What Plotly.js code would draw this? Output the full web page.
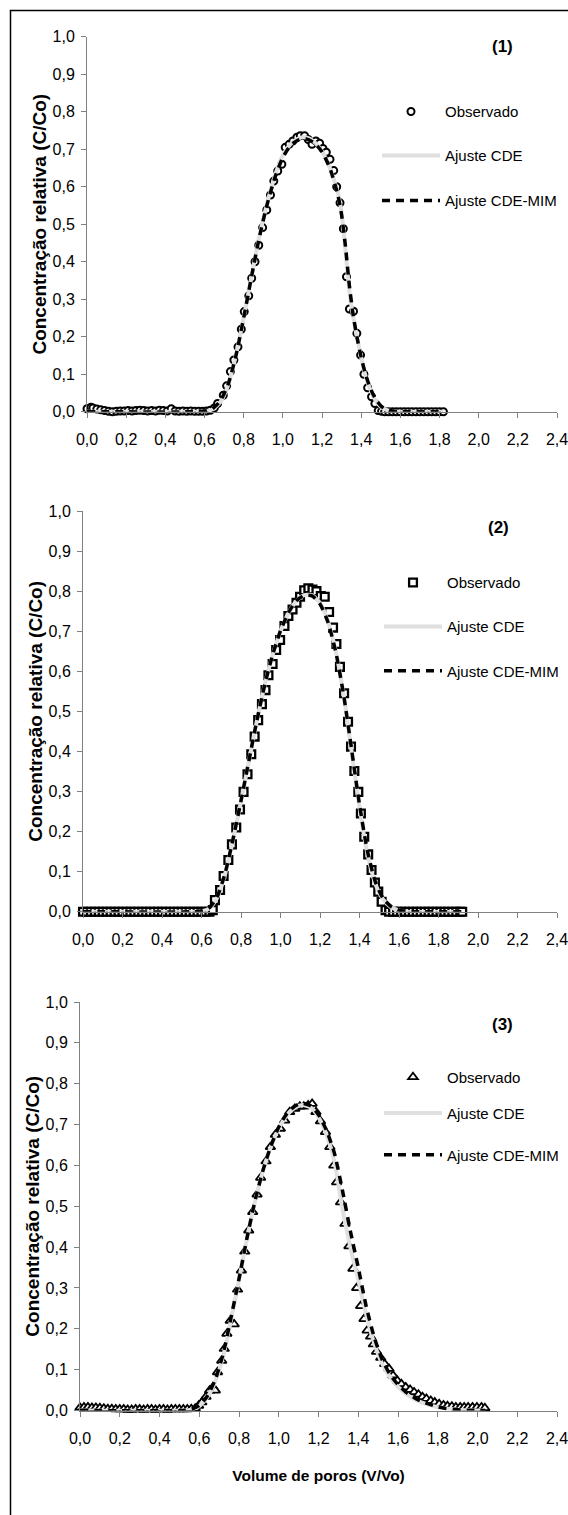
<!DOCTYPE html>
<html><head><meta charset="utf-8">
<script src="https://cdn.plot.ly/plotly-3.0.1.min.js"></script>
<style>html,body{margin:0;padding:0;background:#fff}</style>
</head><body><div id="chart" style="width:568px;height:1515px"></div>
<script>
// ---------- Panel (1) ----------
const obs1X = [0.00,0.02,0.03,0.05,0.07,0.09,0.11,0.13,0.15,0.17,0.19,0.21,0.23,0.25,0.27,0.29,0.31,0.33,0.35,0.37,0.39,0.41,0.43,0.45,0.47,0.49,0.51,0.53,0.55,0.57,0.59,0.61,0.63,0.65,
  0.667,0.696,0.713,0.732,0.750,0.771,0.788,0.803,0.826,0.841,0.858,0.877,0.897,0.918,0.937,0.954,0.974,0.995,1.012,1.032,1.051,1.072,1.089,1.111,1.130,1.149,1.169,1.188,1.205,1.222,1.241,1.260,1.275,1.292,1.309,1.325,1.340,1.361,1.378,1.397,1.414,1.433,1.453,1.470,1.487,1.504,
  1.52,1.54,1.56,1.58,1.60,1.62,1.64,1.66,1.68,1.70,1.72,1.74,1.76,1.78,1.80,1.82];
const obs1Y = [0.008,0.012,0.010,0.007,0.005,0.003,0.001,0.000,0.001,0.002,0.002,0.003,0.002,0.003,0.004,0.003,0.002,0.003,0.002,0.004,0.003,0.002,0.008,0.002,0.001,0.002,0.001,0.002,0.001,0.001,0.001,0.002,0.004,0.010,
  0.022,0.044,0.069,0.107,0.138,0.173,0.220,0.267,0.309,0.356,0.400,0.444,0.491,0.538,0.578,0.615,0.642,0.660,0.705,0.713,0.722,0.732,0.736,0.736,0.726,0.713,0.722,0.716,0.702,0.692,0.673,0.643,0.600,0.557,0.488,0.360,0.274,0.268,0.209,0.151,0.100,0.064,0.040,0.022,0.003,0.001,
  0,0,0,0,0,0,0,0,0,0,0,0,0,0,0,0];
const cde1X = [0,0.56,0.60,0.64,0.68,0.72,0.76,0.80,0.84,0.88,0.92,0.96,1.00,1.04,1.08,1.12,1.16,1.20,1.24,1.28,1.30,1.32,1.34,1.36,1.38,1.40,1.42,1.44,1.46,1.48,1.50,1.52,1.56,1.60,1.82];
const cde1Y = [0,0,0.001,0.006,0.025,0.070,0.150,0.250,0.360,0.468,0.556,0.630,0.684,0.714,0.729,0.731,0.720,0.695,0.650,0.585,0.530,0.430,0.320,0.250,0.195,0.145,0.100,0.068,0.043,0.025,0.013,0.006,0.001,0,0];
const mim1X = [0,0.56,0.60,0.64,0.68,0.72,0.76,0.80,0.84,0.88,0.92,0.96,1.00,1.04,1.08,1.12,1.16,1.20,1.24,1.28,1.30,1.32,1.34,1.36,1.38,1.40,1.42,1.44,1.46,1.48,1.50,1.52,1.56,1.60,1.82];
const mim1Y = [0,0,0.002,0.008,0.028,0.072,0.148,0.250,0.360,0.465,0.553,0.625,0.678,0.710,0.725,0.727,0.717,0.693,0.650,0.580,0.525,0.440,0.335,0.255,0.195,0.145,0.104,0.072,0.047,0.029,0.016,0.008,0.002,0,0];

// ---------- Panel (2) ----------
const obs2X = [0.00,0.02,0.04,0.06,0.08,0.10,0.12,0.14,0.16,0.18,0.20,0.22,0.24,0.26,0.28,0.30,0.32,0.34,0.36,0.38,0.40,0.42,0.44,0.46,0.48,0.50,0.52,0.54,0.56,0.58,0.60,0.62,0.64,
  0.657,0.668,0.694,0.712,0.736,0.754,0.776,0.795,0.813,0.833,0.852,0.869,0.887,0.906,0.924,0.939,0.960,0.978,0.998,1.020,1.040,1.061,1.081,1.099,1.120,1.141,1.162,1.182,1.204,1.224,1.246,1.266,1.283,1.301,1.322,1.342,1.357,1.374,1.394,1.407,1.424,1.444,1.461,1.478,1.495,1.512,1.532,
  1.55,1.57,1.59,1.61,1.63,1.65,1.67,1.69,1.71,1.73,1.75,1.77,1.79,1.81,1.83,1.85,1.87,1.89,1.91,1.92];
const obs2Y = [0,0,0,0,0,0,0,0,0,0,0,0,0,0,0,0,0,0,0,0,0,0,0,0,0,0,0,0,0,0,0,0,0,
  0.004,0.029,0.054,0.089,0.129,0.168,0.210,0.255,0.299,0.343,0.393,0.437,0.478,0.518,0.553,0.590,0.618,0.653,0.678,0.713,0.738,0.754,0.771,0.786,0.802,0.807,0.804,0.800,0.788,0.786,0.748,0.709,0.668,0.611,0.545,0.474,0.412,0.351,0.299,0.245,0.187,0.143,0.104,0.073,0.050,0.025,0.004,
  0,0,0,0,0,0,0,0,0,0,0,0,0,0,0,0,0,0,0,0];
const cde2X = [0,0.56,0.60,0.64,0.68,0.72,0.76,0.80,0.84,0.88,0.92,0.96,1.00,1.04,1.08,1.12,1.16,1.20,1.24,1.28,1.32,1.36,1.40,1.44,1.48,1.52,1.56,1.60,1.64,1.92];
const cde2Y = [0,0,0.001,0.008,0.035,0.095,0.180,0.275,0.375,0.475,0.565,0.640,0.700,0.745,0.775,0.790,0.790,0.770,0.725,0.650,0.540,0.400,0.260,0.145,0.070,0.030,0.011,0.003,0,0];
const mim2X = [0,0.56,0.60,0.64,0.68,0.72,0.76,0.80,0.84,0.88,0.92,0.96,1.00,1.04,1.08,1.12,1.16,1.20,1.24,1.28,1.32,1.36,1.40,1.44,1.48,1.52,1.56,1.60,1.64,1.68,1.92];
const mim2Y = [0,0,0.002,0.010,0.038,0.097,0.182,0.277,0.377,0.476,0.566,0.641,0.701,0.746,0.776,0.789,0.788,0.768,0.723,0.648,0.540,0.405,0.267,0.152,0.075,0.033,0.013,0.004,0.001,0,0];

// ---------- Panel (3) ----------
const obs3X = [0.00,0.02,0.04,0.06,0.08,0.10,0.12,0.14,0.16,0.18,0.20,0.22,0.24,0.26,0.28,0.30,0.32,0.34,0.36,0.38,0.40,0.42,0.44,0.46,0.48,0.50,0.52,0.54,0.56,0.58,
  0.597,0.613,0.634,0.652,0.669,0.681,0.692,0.713,0.726,0.739,0.756,0.776,0.793,0.812,0.829,0.849,0.869,0.891,0.909,0.936,0.958,0.983,1.008,1.030,1.055,1.081,1.106,1.126,1.148,1.168,1.187,1.210,1.235,1.257,1.277,1.291,1.311,1.333,1.353,1.373,1.392,1.412,1.429,1.445,1.462,1.476,1.492,1.513,1.533,1.555,1.575,1.597,1.617,1.639,1.661,1.681,1.703,1.723,1.743,1.765,1.785,1.807,1.829,1.849,1.871,1.891,1.913,1.933,1.953,1.975,1.997,2.020,2.037];
const obs3Y = [0.007,0.008,0.008,0.007,0.007,0.006,0.005,0.004,0.004,0.003,0.003,0.003,0.002,0.002,0.003,0.003,0.002,0.003,0.003,0.002,0.003,0.003,0.002,0.003,0.003,0.003,0.003,0.003,0.004,0.005,
  0.012,0.020,0.034,0.049,0.057,0.049,0.094,0.122,0.151,0.188,0.220,0.211,0.296,0.343,0.389,0.441,0.486,0.529,0.570,0.610,0.645,0.675,0.690,0.710,0.731,0.739,0.744,0.744,0.747,0.751,0.731,0.708,0.682,0.645,0.600,0.559,0.510,0.457,0.402,0.347,0.300,0.256,0.224,0.196,0.181,0.162,0.144,0.129,0.114,0.102,0.086,0.073,0.065,0.057,0.051,0.045,0.039,0.033,0.029,0.024,0.020,0.016,0.013,0.011,0.010,0.008,0.008,0.008,0.008,0.008,0.008,0.008,0.006];
const cde3X = [0,0.52,0.56,0.60,0.64,0.68,0.72,0.76,0.80,0.84,0.88,0.92,0.96,1.00,1.04,1.08,1.12,1.16,1.20,1.24,1.28,1.32,1.36,1.40,1.44,1.48,1.52,1.56,1.60,1.64,1.68,1.72,1.76,1.80,1.84,1.88,1.92,1.96,2.04];
const cde3Y = [0,0,0.002,0.011,0.032,0.070,0.132,0.222,0.320,0.420,0.510,0.585,0.645,0.690,0.722,0.741,0.748,0.742,0.718,0.675,0.610,0.495,0.400,0.320,0.235,0.165,0.115,0.082,0.058,0.041,0.028,0.019,0.013,0.008,0.005,0.003,0.001,0,0];
const mim3X = [0,0.52,0.56,0.60,0.64,0.68,0.72,0.76,0.80,0.84,0.88,0.92,0.96,1.00,1.04,1.08,1.12,1.16,1.20,1.24,1.28,1.32,1.36,1.40,1.44,1.48,1.52,1.56,1.60,1.64,1.68,1.72,1.76,1.80,1.84,1.88,1.92,1.96,2.04];
const mim3Y = [0,0,0.003,0.012,0.035,0.075,0.138,0.228,0.322,0.422,0.512,0.587,0.647,0.694,0.726,0.745,0.752,0.746,0.724,0.686,0.630,0.540,0.440,0.350,0.255,0.180,0.125,0.088,0.063,0.045,0.032,0.022,0.015,0.009,0.005,0.003,0.001,0,0];

const legendNames = ['Observado', 'Ajuste CDE', 'Ajuste CDE-MIM'];
const panelLabels = ['(1)', '(2)', '(3)'];
const xTicks = [0,0.2,0.4,0.6,0.8,1.0,1.2,1.4,1.6,1.8,2.0,2.2,2.4];
const yTitle = 'Concentração relativa (C/Co)';
const xTitle = 'Volume de poros (V/Vo)';

// ---------- styling ----------
const REG = "'Liberation Sans', Arial, sans-serif";
const H = 1515, W = 568;
const py = v => 1 - v / H;
const px = v => v / W;

const obsSets = [[obs1X, obs1Y], [obs2X, obs2Y], [obs3X, obs3Y]];
const cdeSets = [[cde1X, cde1Y], [cde2X, cde2Y], [cde3X, cde3Y]];
const mimSets = [[mim1X, mim1Y], [mim2X, mim2Y], [mim3X, mim3Y]];
const symbols = ['circle', 'square', 'triangle-up'];
const symSize = [7, 7.8, 8.5];
const symLine = [2.0, 2.3, 1.8];

const legendY = [[111.7, 155.7, 200.7], [582.7, 626.7, 671], [1077.3, 1113.3, 1155]];
const legendX = [377, 379, 379];

const traces = [];
const layout = {
  width: W, height: H,
  margin: {l: 0, r: 0, t: 0, b: 0},
  paper_bgcolor: '#fff', plot_bgcolor: 'rgba(0,0,0,0)',
  separators: ', ',
  showlegend: true,
  font: {family: REG, size: 16, color: '#000'},
  shapes: [{type: 'rect', xref: 'paper', yref: 'paper', x0: px(10.5), x1: 1.05, y0: -0.05, y1: py(10.5),
            line: {color: '#000', width: 1.5}, fillcolor: 'rgba(0,0,0,0)', layer: 'below'}],
  annotations: []
};

const xDom = [[87, 557], [83, 557], [80, 557]];
const yDom = [[411.7, 36.7], [911.7, 511], [1410.5, 1002]];
const labelPos = [[2.123, 0.973], [2.106, 0.960], [2.128, 0.944]];

for (let p = 0; p < 3; p++) {
  const sfx = p === 0 ? '' : String(p + 1);
  const xa = 'x' + sfx, ya = 'y' + sfx;
  const lg = [3 * p, 3 * p + 1, 3 * p + 2].map(i => i === 0 ? 'legend' : 'legend' + (i + 1));

  traces.push({
    type: 'scatter', mode: 'markers', x: obsSets[p][0], y: obsSets[p][1], xaxis: xa, yaxis: ya,
    name: legendNames[0], legend: lg[0], showlegend: true, cliponaxis: false,
    marker: {symbol: symbols[p], size: symSize[p], color: '#fff', line: {color: '#000', width: symLine[p]}}
  });
  traces.push({
    type: 'scatter', mode: 'lines', x: cdeSets[p][0], y: cdeSets[p][1], xaxis: xa, yaxis: ya,
    name: legendNames[1], legend: lg[1], showlegend: true, cliponaxis: false,
    line: {color: '#e0e0e0', width: 4, shape: 'spline', smoothing: 0.6}
  });
  traces.push({
    type: 'scatter', mode: 'lines', x: mimSets[p][0], y: mimSets[p][1], xaxis: xa, yaxis: ya,
    name: legendNames[2], legend: lg[2], showlegend: true, cliponaxis: false,
    line: {color: '#000', width: 3.5, dash: '8px,6px', shape: 'spline', smoothing: 0.6}
  });

  for (let k = 0; k < 3; k++) {
    layout[lg[k]] = {
      x: px(legendX[p]), y: py(legendY[p][k]), xanchor: 'left', yanchor: 'middle',
      bgcolor: 'rgba(0,0,0,0)', borderwidth: 0, itemwidth: 58,
      font: {family: REG, size: 15, color: '#000'}
    };
  }

  const axisCommon = {
    showgrid: false, zeroline: false, showline: true, linecolor: '#808080', linewidth: 1,
    ticks: 'outside', ticklen: 5, tickwidth: 1, tickcolor: '#808080', ticklabeloverflow: 'allow',
    tickfont: {family: REG, size: 16, color: '#000'}, fixedrange: true, tickformat: '.1f'
  };
  layout['xaxis' + sfx] = Object.assign({}, axisCommon, {
    domain: [px(xDom[p][0]), px(xDom[p][1])], anchor: ya, range: [0, 2.4],
    tickmode: 'array', tickvals: xTicks, ticklabelstandoff: 8
  });
  if (p === 2) {
    layout['xaxis' + sfx].title = {text: '<b>' + xTitle + '</b>', font: {family: REG, size: 15.5, color: '#000'}, standoff: 24};
  }
  layout['yaxis' + sfx] = Object.assign({}, axisCommon, {
    domain: [py(yDom[p][0]), py(yDom[p][1])], anchor: xa, range: [0, 1], dtick: 0.1, tick0: 0,
    ticklabelstandoff: 3,
    title: {text: '<b>' + yTitle + '</b>', font: {family: REG, size: 19, color: '#000'}, standoff: 0}
  });
  layout.annotations.push({
    xref: xa, yref: ya, x: labelPos[p][0], y: labelPos[p][1], text: '<b>' + panelLabels[p] + '</b>',
    showarrow: false, xanchor: 'center', yanchor: 'middle',
    font: {family: REG, size: 17, color: '#000'}
  });
}

Plotly.newPlot('chart', traces, layout, {staticPlot: true, displayModeBar: false});
</script>
</body></html>
